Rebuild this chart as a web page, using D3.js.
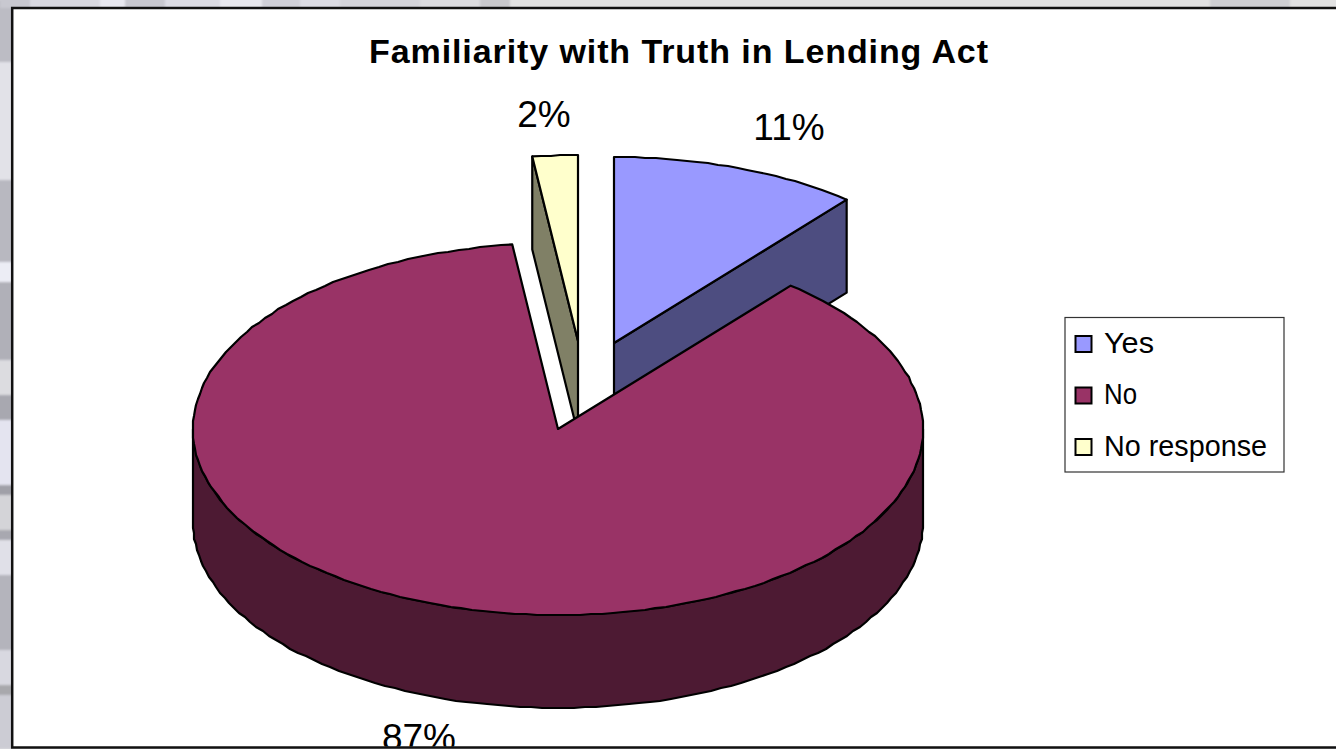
<!DOCTYPE html>
<html>
<head>
<meta charset="utf-8">
<script src="https://cdn.jsdelivr.net/npm/d3@7"></script>
<style>
  html, body { margin: 0; padding: 0; background: #e2e2e6; overflow: hidden; }
  svg { display: block; font-family: "Liberation Sans", Arial, sans-serif; }
</style>
</head>
<body>
<svg id="chart" width="1336" height="749"></svg>
<script>
const categories = ["Yes", "No", "No response"];
const percents = [11, 87, 2];
const topColors = ["#9999ff", "#993366", "#ffffcc"];
const sideColors = ["#4d4d80", "#4d1a33", "#808066"];
const titleText = "Familiarity with Truth in Lending Act";

// Pie geometry: tilted ellipse, extrusion depth and the pull-out of each slice.
const cx = 558, cy = 429, rx = 365, ry = 186, depth = 93;
const pullX = [56, 0, 20], pullY = [-86, 0, -88];
const labelX = [789, 419, 544], labelY = [140, 750, 127];
const legendWidths = [50, 33, 163];

// Backdrop bands showing around the chart frame: [start, end, shade].
const sideBands = [
  [0, 62, "#bcbcc4"], [62, 180, "#e2e2e8"], [180, 262, "#b8b8c0"], [262, 282, "#ecedf5"],
  [282, 360, "#b0b0b8"], [360, 395, "#dcdce0"], [395, 420, "#a8a8b0"], [420, 485, "#e4e4f0"],
  [485, 495, "#a0a0a8"], [495, 530, "#d4d4d8"], [530, 540, "#a8a8b0"], [540, 575, "#e0e0e8"],
  [575, 650, "#b4b4bc"], [650, 685, "#d8d8e0"], [685, 695, "#a8a8ac"], [695, 749, "#ccccd4"]
];
const topBands = [
  [0, 30, "#c8c8d0"], [30, 100, "#d8d8e0"], [100, 125, "#e8e8f0"], [125, 165, "#c8c8d0"],
  [165, 220, "#dcdce4"], [220, 262, "#e8e8ee"], [262, 300, "#d0d0d8"], [300, 340, "#dcdce4"],
  [340, 420, "#d4d4da"], [420, 480, "#dcdce0"], [480, 510, "#c8c8cc"], [510, 1210, "#e2e2e2"],
  [1210, 1290, "#cfcfd2"], [1290, 1336, "#e2e2e2"]
];

const svg = d3.select("#chart");

const defs = svg.append("defs");
defs.append("filter").attr("id", "soft").attr("x", "-5%").attr("y", "-5%").attr("width", "110%").attr("height", "110%")
  .append("feGaussianBlur").attr("stdDeviation", 1.2);
defs.append("clipPath").attr("id", "inside").append("rect")
  .attr("x", 13).attr("y", 9).attr("width", 1323).attr("height", 737.5);

const backdrop = svg.append("g").attr("filter", "url(#soft)");
backdrop.selectAll(".side").data(sideBands).join("rect").attr("class", "side")
  .attr("x", -4).attr("width", 18).attr("y", d => d[0]).attr("height", d => d[1] - d[0]).attr("fill", d => d[2]);
backdrop.selectAll(".top").data(topBands).join("rect").attr("class", "top")
  .attr("y", -4).attr("height", 12).attr("x", d => d[0]).attr("width", d => d[1] - d[0]).attr("fill", d => d[2]);

// Chart frame; it runs past the right edge of the page.
svg.append("rect").attr("x", 12.2).attr("y", 8).attr("width", 1340).attr("height", 739.5)
  .attr("fill", "#fff").attr("stroke", "#111").attr("stroke-width", 2.5);

const plot = svg.append("g");

const x = d3.scaleLinear().domain([-1, 1]).range([cx - rx, cx + rx]);
const y = d3.scaleLinear().domain([-1, 1]).range([cy - ry, cy + ry]);

const slices = d3.pie().sort(null).value(d => d)(percents);
const rim = (a, i, drop = 0) => [x(Math.sin(a)) + pullX[i], y(-Math.cos(a)) + pullY[i] + drop];
const apex = (i, drop = 0) => [x(0) + pullX[i], y(0) + pullY[i] + drop];
const line = d3.line();
// Rims are plotted as short chords snapped to whole pixels, giving a slightly stepped outline.
const arcPoints = (a0, a1, i, drop = 0) => {
  const n = Math.max(1, Math.ceil(Math.abs(a1 - a0) / 0.03));
  return d3.range(n + 1).map(k => {
    const p = rim(a0 + (a1 - a0) * k / n, i, drop);
    return k === 0 || k === n ? p : [Math.round(p[0]), Math.round(p[1])];
  });
};
const draw = (d, fill) => plot.append("path").attr("d", d).attr("fill", fill)
  .attr("stroke", "#000").attr("stroke-width", 2.2).attr("stroke-linejoin", "round");

function drawSlice(i, faceAngle) {
  const s = slices[i];
  // Cut face seen through the gap left by a pulled-out slice.
  if (faceAngle !== null) {
    draw(line([apex(i), rim(faceAngle, i), rim(faceAngle, i, depth), apex(i, depth)]) + "Z", sideColors[i]);
  }
  // Outer wall, only where the rim faces the viewer.
  const a0 = Math.max(s.startAngle, Math.PI / 2);
  const a1 = Math.min(s.endAngle, Math.PI * 3 / 2);
  if (a1 > a0) {
    draw(line([...arcPoints(a0, a1, i), ...arcPoints(a1, a0, i, depth)]) + "Z", sideColors[i]);
  }
  draw(line([apex(i), ...arcPoints(s.startAngle, s.endAngle, i)]) + "Z", topColors[i]);
}

drawSlice(0, slices[0].endAngle);
drawSlice(2, slices[2].startAngle);
drawSlice(1, null);

// Title
svg.append("text").attr("x", 678.5).attr("y", 63).attr("text-anchor", "middle")
  .attr("font-size", 34).attr("font-weight", "bold").attr("fill", "#000")
  .attr("textLength", 619).attr("lengthAdjust", "spacing").text(titleText);

// Percentage labels, the last clipped by the frame.
svg.append("g").attr("clip-path", "url(#inside)")
  .selectAll("text").data(percents).join("text")
  .attr("x", (d, i) => labelX[i]).attr("y", (d, i) => labelY[i])
  .attr("text-anchor", "middle").attr("font-size", 37).attr("fill", "#000")
  .text(d => d + "%");

// Legend
const legend = svg.append("g");
legend.append("rect").attr("x", 1065).attr("y", 317.5).attr("width", 219).attr("height", 154.5)
  .attr("fill", "#fff").attr("stroke", "#333").attr("stroke-width", 1.2);
const legendY = d3.scalePoint().domain(categories).range([344.5, 447.5]);
const rows = legend.selectAll("g").data(categories).join("g")
  .attr("transform", d => `translate(0,${legendY(d)})`);
rows.append("rect").attr("x", 1075.5).attr("y", -8.5).attr("width", 16).attr("height", 16)
  .attr("fill", (d, i) => topColors[i]).attr("stroke", "#000").attr("stroke-width", 2);
rows.append("text").attr("x", 1104).attr("y", 8).attr("font-size", 28.7).attr("fill", "#000")
  .attr("textLength", (d, i) => legendWidths[i]).attr("lengthAdjust", "spacingAndGlyphs").text(d => d);
</script>
</body>
</html>
